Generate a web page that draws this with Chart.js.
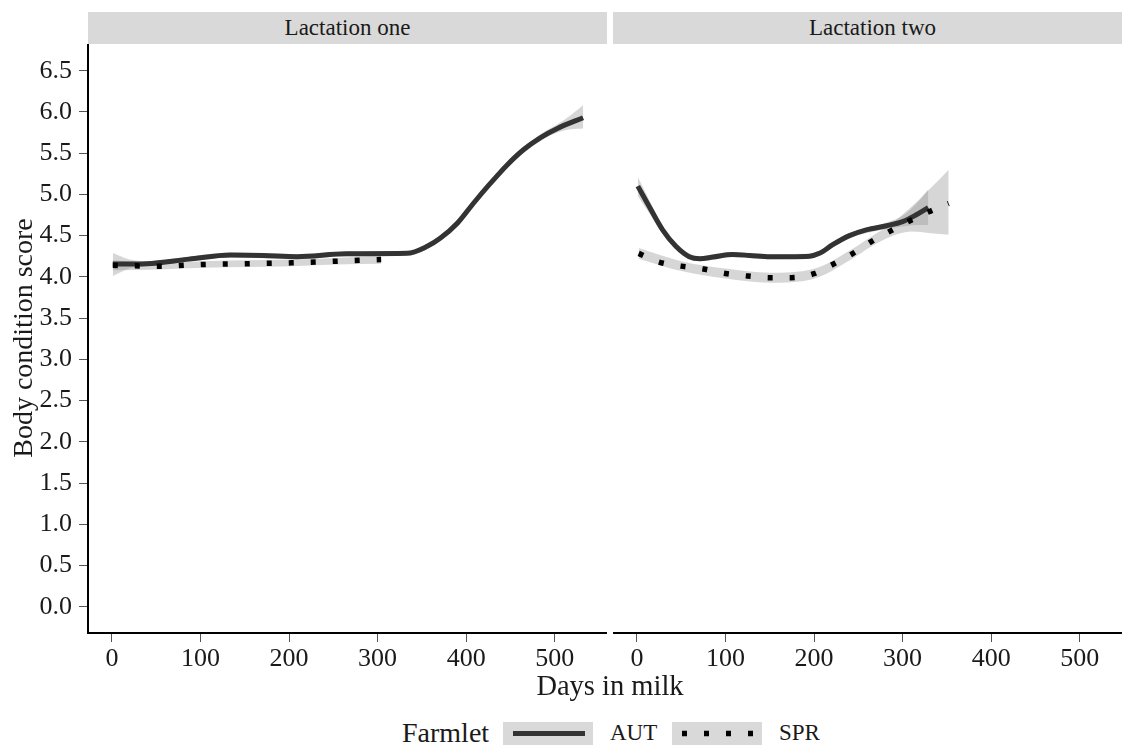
<!DOCTYPE html>
<html><head><meta charset="utf-8">
<script src="https://cdn.jsdelivr.net/npm/chart.js@4.4.0/dist/chart.umd.min.js"></script>
<style>
html,body{margin:0;padding:0;background:#fff;overflow:hidden;width:1122px;height:747px;}
body{position:relative;font-family:"Liberation Serif","Times New Roman",serif;color:#1a1a1a;}
.strip{position:absolute;top:12px;height:32px;background:#d9d9d9;font-size:23px;line-height:32px;text-align:center;color:#1a1a1a;white-space:nowrap;}
.panel{position:absolute;top:44px;height:636px;}
.txt{position:absolute;white-space:nowrap;}
.key{position:absolute;top:722px;width:90px;height:23px;background:#d9d9d9;}
</style>
</head><body>
<div class="strip" style="left:88px;width:519px;">Lactation one</div>
<div class="strip" style="left:613px;width:519px;">Lactation two</div>
<div class="panel" style="left:0;width:607px;"><canvas id="c1" width="607" height="636"></canvas></div>
<div class="panel" style="left:613px;width:519px;"><canvas id="c2" width="519" height="636"></canvas></div>
<div class="txt" style="left:0;top:0;width:50px;height:677px;"><div style="position:absolute;left:23px;top:338px;transform:translate(-50%,-50%) rotate(-90deg);font-size:28px;white-space:nowrap;">Body condition score</div></div>
<div class="txt" style="left:0;width:1220px;top:669px;font-size:28.5px;text-align:center;line-height:34px;">Days in milk</div>
<div class="txt" style="left:402px;top:716px;font-size:28px;line-height:34px;">Farmlet</div>
<div class="key" style="left:503px;"><svg width="90" height="23"><line x1="10" y1="11.5" x2="82" y2="11.5" stroke="#333" stroke-width="5"/></svg></div>
<div class="txt" style="left:610px;top:718px;font-size:23px;line-height:30px;">AUT</div>
<div class="key" style="left:672px;"><svg width="90" height="23"><line x1="10" y1="11.5" x2="82" y2="11.5" stroke="#000" stroke-width="5.5" stroke-dasharray="5 17"/></svg></div>
<div class="txt" style="left:779px;top:718px;font-size:23px;line-height:30px;">SPR</div>
<script>
// Axis ticks
const xTicks = [0, 100, 200, 300, 400, 500];
const yTicks = [0, 0.5, 1, 1.5, 2, 2.5, 3, 3.5, 4, 4.5, 5, 5.5, 6, 6.5];

// Lactation one - AUT
const l1AutDays = [1, 39, 87, 134, 171, 209, 265, 333, 356, 371, 390, 408, 427, 446, 465, 484, 503, 532];
const l1AutBcs  = [4.155, 4.16, 4.215, 4.265, 4.26, 4.245, 4.28, 4.285, 4.37, 4.47, 4.65, 4.89, 5.13, 5.355, 5.545, 5.69, 5.80, 5.93];
const l1AutBandDays = [1, 20, 39, 87, 134, 209, 265, 333, 371, 408, 446, 484, 503, 518, 532];
const l1AutLo = [4.01, 4.10, 4.13, 4.185, 4.235, 4.215, 4.25, 4.26, 4.44, 4.86, 5.325, 5.65, 5.75, 5.79, 5.80];
const l1AutHi = [4.29, 4.21, 4.19, 4.245, 4.295, 4.275, 4.31, 4.31, 4.50, 4.92, 5.385, 5.73, 5.85, 5.96, 6.08];
// Lactation one - SPR
const l1SprDays = [1, 54, 103, 153, 203, 253, 304];
const l1SprBcs  = [4.14, 4.13, 4.15, 4.16, 4.17, 4.19, 4.21];
const l1SprLo   = [4.08, 4.09, 4.11, 4.12, 4.13, 4.15, 4.16];
const l1SprHi   = [4.20, 4.17, 4.19, 4.20, 4.21, 4.23, 4.26];

// Lactation two - AUT
const l2AutDays = [1, 14, 29, 44, 59, 71, 86, 108, 127, 150, 172, 195, 206, 221, 240, 259, 282, 300, 315, 329];
const l2AutBcs  = [5.10, 4.85, 4.57, 4.37, 4.245, 4.22, 4.24, 4.27, 4.26, 4.245, 4.245, 4.25, 4.285, 4.39, 4.50, 4.57, 4.62, 4.67, 4.75, 4.84];
const l2AutBandDays = [1, 14, 29, 44, 71, 108, 150, 195, 240, 282, 300, 315, 329];
const l2AutLo = [4.98, 4.77, 4.53, 4.34, 4.19, 4.24, 4.215, 4.22, 4.47, 4.58, 4.61, 4.63, 4.63];
const l2AutHi = [5.21, 4.93, 4.61, 4.40, 4.25, 4.30, 4.275, 4.28, 4.53, 4.66, 4.74, 4.88, 5.06];
// Lactation two - SPR
const l2SprDays = [2, 25, 50, 75, 100, 125, 150, 174, 199, 221, 244, 265, 287, 310, 332, 352];
const l2SprBcs  = [4.285, 4.18, 4.13, 4.095, 4.04, 4.01, 3.99, 3.99, 4.035, 4.15, 4.285, 4.43, 4.56, 4.69, 4.80, 4.89];
const l2SprBandDays = [2, 50, 100, 150, 199, 244, 265, 287, 310, 332, 352];
const l2SprLo = [4.22, 4.07, 3.98, 3.93, 3.975, 4.225, 4.37, 4.49, 4.55, 4.53, 4.51];
const l2SprHi = [4.35, 4.19, 4.10, 4.05, 4.095, 4.345, 4.49, 4.64, 4.85, 5.08, 5.30];

const FONT = "'Liberation Serif', 'Times New Roman', serif";
const pts = (xs, ys) => xs.map((x, i) => ({x: x, y: ys[i]}));
const BAND = 'rgba(153,153,153,0.4)';

function bandSets(days, lo, hi) {
  return [
    {data: pts(days, hi), fill: '+1', backgroundColor: BAND, borderWidth: 0, pointRadius: 0, cubicInterpolationMode: 'monotone', order: 2},
    {data: pts(days, lo), fill: false, borderWidth: 0, pointRadius: 0, cubicInterpolationMode: 'monotone', order: 2}
  ];
}
function autSet(days, bcs) {
  return {data: pts(days, bcs), borderColor: '#333', borderWidth: 5, pointRadius: 0, fill: false, cubicInterpolationMode: 'monotone', borderCapStyle: 'butt', order: 1};
}
function sprSet(days, bcs) {
  return {data: pts(days, bcs), borderColor: '#000', borderWidth: 5.5, borderDash: [5, 17], borderCapStyle: 'butt', pointRadius: 0, fill: false, cubicInterpolationMode: 'monotone', order: 0};
}
function scales(showY) {
  const grid = {display: true, drawOnChartArea: false, drawTicks: true, tickLength: 9, color: '#555', lineWidth: 1};
  const y = {
    type: 'linear', min: -0.319, max: 6.824, display: showY,
    afterBuildTicks: s => { s.ticks = yTicks.map(v => ({value: v})); },
    grid: grid, border: {display: true, color: '#000', width: 2},
    ticks: {font: {family: FONT, size: 26}, color: '#1a1a1a', padding: 7, autoSkip: false, callback: v => Number(v).toFixed(1)}
  };
  if (showY) y.afterFit = s => { s.width = 88; s.paddingTop = 0; s.paddingBottom = 0; };
  return {
    x: {
      type: 'linear', min: -27, max: 559,
      afterBuildTicks: s => { s.ticks = xTicks.map(v => ({value: v})); },
      afterFit: s => { s.height = 47; s.paddingLeft = 0; s.paddingRight = 0; },
      grid: grid, border: {display: true, color: '#000', width: 2},
      ticks: {font: {family: FONT, size: 26}, color: '#1a1a1a', padding: 2, maxRotation: 0, autoSkip: false, callback: v => String(v)}
    },
    y: y
  };
}
function make(id, sets, showY) {
  new Chart(document.getElementById(id), {
    type: 'line',
    data: {datasets: sets},
    options: {
      responsive: false, animation: false, devicePixelRatio: 1,
      layout: {padding: 0},
      plugins: {legend: {display: false}, tooltip: {enabled: false}},
      scales: scales(showY)
    }
  });
}
make('c1', [
  ...bandSets(l1AutBandDays, l1AutLo, l1AutHi),
  ...bandSets(l1SprDays, l1SprLo, l1SprHi),
  autSet(l1AutDays, l1AutBcs),
  sprSet(l1SprDays, l1SprBcs)
], true);
make('c2', [
  ...bandSets(l2AutBandDays, l2AutLo, l2AutHi),
  ...bandSets(l2SprBandDays, l2SprLo, l2SprHi),
  autSet(l2AutDays, l2AutBcs),
  sprSet(l2SprDays, l2SprBcs)
], false);
</script>
</body></html>
